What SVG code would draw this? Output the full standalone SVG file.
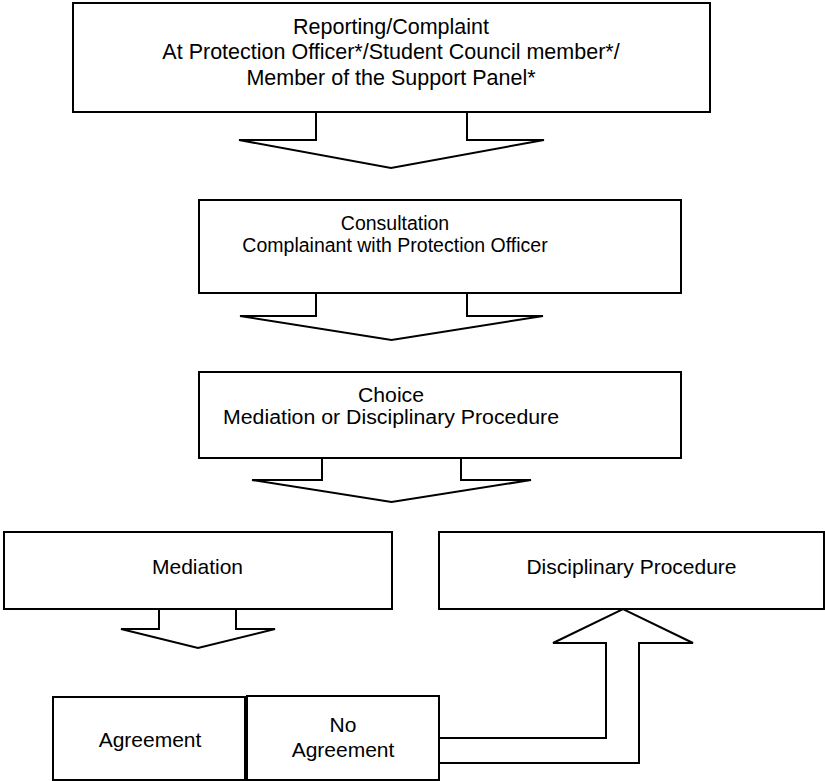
<svg xmlns="http://www.w3.org/2000/svg" width="825" height="781" viewBox="0 0 825 781">
<style>
.box{fill:#fff;stroke:#000;stroke-width:2}
.arr{fill:#fff;stroke:#000;stroke-width:2;stroke-linejoin:miter}
text{font-family:"Liberation Sans",Arial,sans-serif;fill:#000;text-anchor:middle}
.t1{font-size:21.5px}
.t2{font-size:19.5px}
.t3{font-size:21px}
</style>
<rect width="825" height="781" fill="#fff"/>
<g id="connectors">
<polyline class="arr" points="316,112 316,140 239,140 391,168 544,140 467,140 467,112"/>
<polyline class="arr" points="316,293 316,316 240,316 391.5,340 543,316 467,316 467,293"/>
<polyline class="arr" points="322,458 322,480 252,480 391.5,502 531,480 461,480 461,458"/>
<polyline class="arr" points="159,609 159,629 121,629 198,648 275,629 236,629 236,609"/>
<polyline class="arr" points="439,738 606,738 606,643 553,643 623,609 693,643 639,643 639,763 439,763"/>
</g>
<g id="reporting">
<rect class="box" x="73" y="3" width="637" height="109"/>
<text class="t1" x="391" y="33.5">Reporting/Complaint</text>
<text class="t1" x="391" y="59">At Protection Officer*/Student Council member*/</text>
<text class="t1" x="391" y="85">Member of the Support Panel*</text>
</g>
<g id="consultation">
<rect class="box" x="199" y="200" width="482" height="93"/>
<text class="t2" x="395" y="230">Consultation</text>
<text class="t2" x="395" y="252">Complainant with Protection Officer</text>
</g>
<g id="choice">
<rect class="box" x="199" y="372" width="482" height="86"/>
<text class="t2" x="391" y="402" textLength="66" lengthAdjust="spacingAndGlyphs">Choice</text>
<text class="t2" x="391" y="424" textLength="336" lengthAdjust="spacingAndGlyphs">Mediation or Disciplinary Procedure</text>
</g>
<g id="mediation">
<rect class="box" x="4" y="532" width="388" height="77"/>
<text class="t3" x="197.5" y="574">Mediation</text>
</g>
<g id="disciplinary">
<rect class="box" x="439" y="532" width="385" height="77"/>
<text class="t3" x="631.5" y="574">Disciplinary Procedure</text>
</g>
<g id="agreement">
<rect class="box" x="53" y="697" width="192" height="83"/>
<text class="t3" x="150" y="746.5">Agreement</text>
</g>
<g id="no-agreement">
<rect class="box" x="247" y="696" width="192" height="84"/>
<text class="t3" x="343" y="731.5">No</text>
<text class="t3" x="343" y="757">Agreement</text>
</g>
</svg>
